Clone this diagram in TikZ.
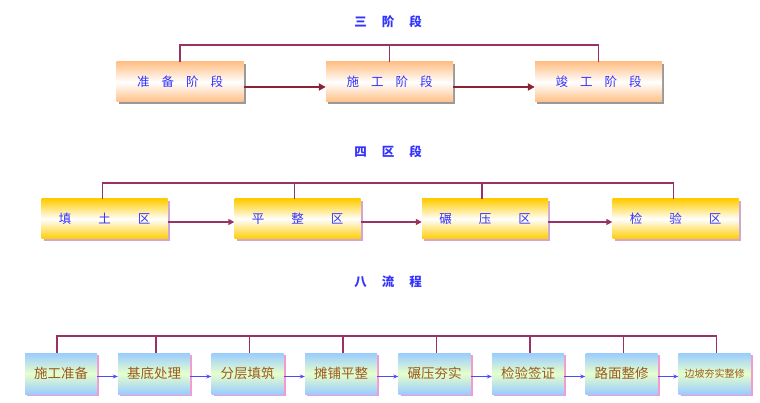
\documentclass[tikz,border=0pt]{standalone}
\usepackage{fontspec}
\newfontfamily\cjk{Noto Sans CJK SC}
\usetikzlibrary{shadows,arrows.meta}
\definecolor{ttl}{HTML}{3333FF}
\definecolor{brk}{HTML}{993366}
\definecolor{peach}{HTML}{FFBF86}
\definecolor{gold}{HTML}{FFCC00}
\definecolor{lblue}{HTML}{99CCFF}
\definecolor{lgreen}{HTML}{E6FFCC}
\definecolor{brn}{HTML}{9C5A1E}
\definecolor{maroon}{HTML}{8B2332}
\tikzset{
  title/.style={font=\cjk\fontsize{12.5}{12.5}\selectfont\bfseries, text=ttl, inner sep=0pt},
  boxa/.style={minimum width=127pt, minimum height=40pt, inner sep=0pt,
    top color=peach, bottom color=peach, middle color=white,
    drop shadow={shadow xshift=2pt, shadow yshift=-2pt, fill=black!40, opacity=1},
    font=\cjk\fontsize{12.5}{12.5}\selectfont, text=ttl},
  boxb/.style={minimum width=126pt, minimum height=40pt, inner sep=0pt,
    top color=gold, bottom color=gold, middle color=white,
    drop shadow={shadow xshift=2pt, shadow yshift=-2pt, fill=violet!35, opacity=1},
    font=\cjk\fontsize{12.5}{12.5}\selectfont, text=ttl},
  boxc/.style={minimum width=72pt, minimum height=41pt, inner sep=0pt,
    top color=lblue, bottom color=lblue, middle color=lgreen,
    drop shadow={shadow xshift=2pt, shadow yshift=-2pt, fill=magenta!40, opacity=1},
    font=\cjk\fontsize{13.5}{13.5}\selectfont, text=brn},
  bracket/.style={draw=brk, line width=1.5pt},
  arra/.style={draw=maroon, line width=2.6pt, -{Triangle[length=7pt,width=7pt]}},
  arrb/.style={draw=brk, line width=1.8pt, -{Triangle[length=6pt,width=6pt]}},
  arrc/.style={draw=blue!70, line width=1.2pt, -{Stealth[length=5pt,width=4pt]}},
}
\newcommand{\gapx}[1]{\hspace{#1}}
\begin{document}
\begin{tikzpicture}[x=1pt,y=-1pt]
\useasboundingbox (0,0) rectangle (760,403);
% titles
\node[title] (t1) at (388,22) {三\gapx{15pt}阶\gapx{15pt}段};
\node[title] (t2) at (388,152) {四\gapx{15pt}区\gapx{15pt}段};
\node[title] (t3) at (388,282) {八\gapx{15pt}流\gapx{15pt}程};
% row 1
\node[boxa] (a1) at (180,82) {准\gapx{12pt}备\gapx{12pt}阶\gapx{12pt}段};
\node[boxa] (a2) at (389.5,82) {施\gapx{12pt}工\gapx{12pt}阶\gapx{12pt}段};
\node[boxa] (a3) at (598.5,82) {竣\gapx{12pt}工\gapx{12pt}阶\gapx{12pt}段};
\coordinate (ta) at (0,45);
\draw[bracket] (a1.north) -- (a1.north |- ta) -- (a3.north |- ta) -- (a3.north);
\draw[bracket] (a2.north |- ta) -- (a2.north);
\draw[arra] ([yshift=-5pt]a1.east) -- ([yshift=-5pt]a2.west);
\draw[arra] ([yshift=-5pt]a2.east) -- ([yshift=-5pt]a3.west);
% row 2
\node[boxb] (b1) at (104.5,219) {填\gapx{27pt}土\gapx{27pt}区};
\node[boxb] (b2) at (297.5,219) {平\gapx{27pt}整\gapx{27pt}区};
\node[boxb] (b3) at (485,219) {碾\gapx{27pt}压\gapx{27pt}区};
\node[boxb] (b4) at (675.5,219) {检\gapx{27pt}验\gapx{27pt}区};
\coordinate (tb) at (0,183);
\draw[bracket] ([xshift=-2pt]b1.north) -- ([xshift=-2pt]b1.north |- tb) -- ([xshift=-2pt]b4.north |- tb) -- ([xshift=-2pt]b4.north);
\draw[bracket] ([xshift=-3pt]b2.north |- tb) -- ([xshift=-3pt]b2.north);
\draw[bracket] ([xshift=-3pt]b3.north |- tb) -- ([xshift=-3pt]b3.north);
\draw[arrb] ([yshift=-3pt]b1.east) -- ([yshift=-3pt]b2.west);
\draw[arrb] ([yshift=-3pt]b2.east) -- ([yshift=-3pt]b3.west);
\draw[arrb] ([yshift=-3pt]b3.east) -- ([yshift=-3pt]b4.west);
% row 3
\node[boxc] (c1) at (61,373.5) {施工准备};
\node[boxc] (c2) at (154,373.5) {基底处理};
\node[boxc] (c3) at (247.5,373.5) {分层填筑};
\node[boxc] (c4) at (341,373.5) {摊铺平整};
\node[boxc] (c5) at (434.5,373.5) {碾压夯实};
\node[boxc] (c6) at (528,373.5) {检验签证};
\node[boxc] (c7) at (621.5,373.5) {路面整修};
\node[boxc, font=\cjk\fontsize{10}{10}\selectfont] (c8) at (714.5,373.5) {边坡夯实整修};
\coordinate (tc) at (0,336);
\draw[bracket] ([xshift=-4pt]c1.north) -- ([xshift=-4pt]c1.north |- tc) -- ([xshift=2pt]c8.north |- tc) -- ([xshift=2pt]c8.north);
\foreach \n in {c2,c3,c4,c5,c6,c7} {
  \draw[bracket] ([xshift=2pt]\n.north |- tc) -- ([xshift=2pt]\n.north);
}
\draw[arrc] ([yshift=-3pt]c1.east) -- ([yshift=-3pt]c2.west);
\draw[arrc] ([yshift=-3pt]c2.east) -- ([yshift=-3pt]c3.west);
\draw[arrc] ([yshift=-3pt]c3.east) -- ([yshift=-3pt]c4.west);
\draw[arrc] ([yshift=-3pt]c4.east) -- ([yshift=-3pt]c5.west);
\draw[arrc] ([yshift=-3pt]c5.east) -- ([yshift=-3pt]c6.west);
\draw[arrc] ([yshift=-3pt]c6.east) -- ([yshift=-3pt]c7.west);
\draw[arrc] ([yshift=-3pt]c7.east) -- ([yshift=-3pt]c8.west);
\end{tikzpicture}
\end{document}
